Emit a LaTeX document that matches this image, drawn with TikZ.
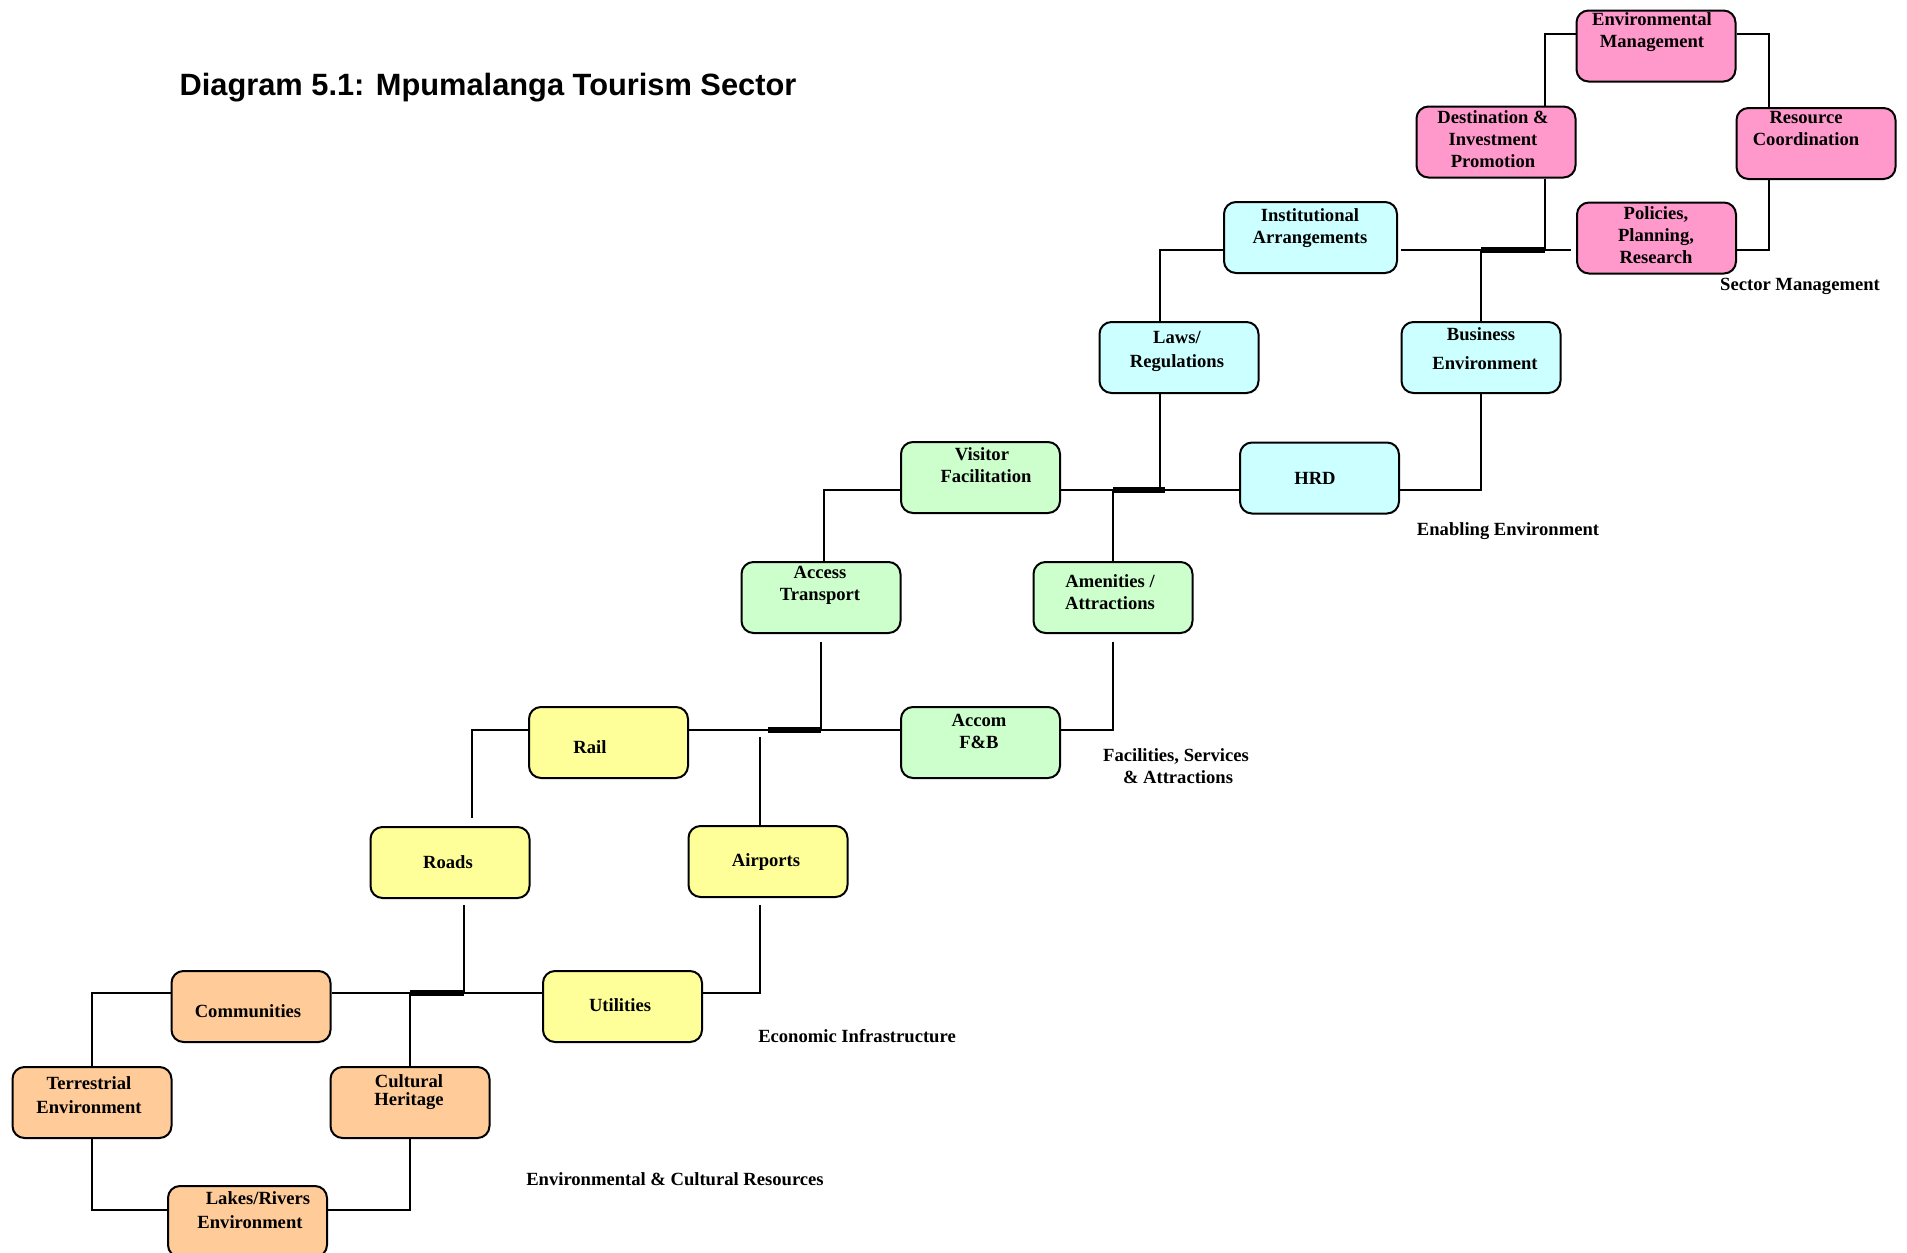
\documentclass[tikz,border=0pt]{standalone}
\usepackage{fontspec}
\setmainfont{Liberation Serif}
\newfontfamily\headfont{Liberation Sans}
\usetikzlibrary{calc}

\definecolor{smpink}{HTML}{FF99CC}
\definecolor{eecyan}{HTML}{CCFFFF}
\definecolor{fsgreen}{HTML}{CCFFCC}
\definecolor{eiyellow}{HTML}{FFFF99}
\definecolor{ecorange}{HTML}{FFCC99}

\tikzset{
  unit/.style={draw=black, line width=1pt, rounded corners=6pt,
    minimum width=79.5pt, minimum height=35.5pt, inner sep=0pt},
  pinkbox/.style={unit, fill=smpink},
  cyanbox/.style={unit, fill=eecyan},
  greenbox/.style={unit, fill=fsgreen},
  yellowbox/.style={unit, fill=eiyellow},
  orangebox/.style={unit, fill=ecorange},
  boxtext/.style={align=center, inner sep=0pt,
    font=\fontsize{9.3}{11}\selectfont\bfseries},
  grouplabel/.style={align=center, inner sep=0pt,
    font=\fontsize{9.3}{11}\selectfont\bfseries},
  link/.style={line width=0.6pt},
  bus/.style={line width=3pt},
}

\begin{document}
\begin{tikzpicture}[x=0.5pt, y=-0.5pt]
\useasboundingbox[fill=white] (0,0) rectangle (1907,1253);

% title
\node[inner sep=0pt, font=\headfont\fontsize{15.4}{18}\selectfont\bfseries] (title)
  at (488,88) {Diagram 5.1: Mpumalanga Tourism Sector};

% ---------------- Sector Management ----------------
\node[pinkbox] (envm) at (1656,46) {};
\node[boxtext] (envmT) at (1652,32) {Environmental\\Management};
\node[pinkbox] (dest) at (1496,142) {};
\node[boxtext] (destT) at (1493,139) {Destination \&\\Investment\\Promotion};
\node[pinkbox] (res) at (1816,143.5) {};
\node[boxtext] (resT) at (1806,128) {Resource\\Coordination};
\node[pinkbox] (pol) at (1656.5,238) {};
\node[boxtext] (polT) at (1656,235) {Policies,\\Planning,\\Research};
\node[grouplabel] (smlab) at (1800,286) {Sector Management};

% ---------------- Enabling Environment ----------------
\node[cyanbox, minimum width=86.5pt] (inst) at (1310.5,237.5) {};
\node[boxtext] (instT) at (1310,228.5) {Institutional\\Arrangements};
\node[cyanbox] (laws) at (1179,357.5) {};
\node[boxtext] (lawsT) at (1177,351) {Laws/\\[1pt]Regulations};
\node[cyanbox] (bus) at (1481,357.5) {};
\node[boxtext] (busT) at (1481,348.5) {Business\\[3.5pt]\hspace*{4pt}Environment};
\node[cyanbox] (hrd) at (1319.5,478) {};
\node[boxtext] (hrdT) at (1315,478) {HRD};
\node[grouplabel] (eelab) at (1508,531) {Enabling Environment};

% ---------------- Facilities, Services & Attractions ----------------
\node[greenbox] (vis) at (980.5,477.5) {};
\node[boxtext] (visT) at (982,465.5) {Visitor\\\hspace*{4pt}Facilitation};
\node[greenbox] (acc) at (821,597.5) {};
\node[boxtext] (accT) at (820,585.5) {Access\\Transport};
\node[greenbox] (amen) at (1113,597.5) {};
\node[boxtext] (amenT) at (1110,592) {Amenities /\\Attractions};
\node[greenbox] (accom) at (980.5,742.5) {};
\node[boxtext] (accomT) at (979,731.5) {Accom\\F\&B};
\node[grouplabel] (fslab) at (1176,766) {Facilities, Services\\\hspace*{2pt}\& Attractions};

% ---------------- Economic Infrastructure ----------------
\node[yellowbox] (rail) at (608.5,742.5) {};
\node[boxtext] (railT) at (590,747) {Rail};
\node[yellowbox] (roads) at (450,862.5) {};
\node[boxtext] (roadsT) at (448,862) {Roads};
\node[yellowbox] (air) at (768,861.5) {};
\node[boxtext] (airT) at (766,862) {Airports};
\node[yellowbox] (util) at (622.5,1006.5) {};
\node[boxtext] (utilT) at (620,1005) {Utilities};
\node[grouplabel] (eilab) at (857,1036) {Economic Infrastructure};

% ---------------- Environmental & Cultural Resources ----------------
\node[orangebox] (comm) at (251,1006.5) {};
\node[boxtext] (commT) at (248,1011) {Communities};
\node[orangebox] (terr) at (92,1102.5) {};
\node[boxtext] (terrT) at (89,1095) {Terrestrial\\[1pt]Environment};
\node[orangebox] (cult) at (410,1102.5) {};
\node[boxtext] (cultT) at (409,1092.5) {Cultural\\[-2pt]Heritage};
\node[orangebox] (lakes) at (247.5,1221.5) {};
\node[boxtext] (lakesT) at (250,1210) {\hspace*{8pt}Lakes/Rivers\\[1pt]Environment};
\node[grouplabel] (eclab) at (675,1179) {Environmental \& Cultural Resources};

% ---------------- junction points ----------------
\coordinate (emL) at (1545,34);
\coordinate (emR) at (1769,34);
\coordinate (smL) at (1481,250);
\coordinate (smR) at (1545,250);
\coordinate (smGap) at (1571,250);
\coordinate (rsB) at (1769,250);
\coordinate (inL) at (1160,250);
\coordinate (lwB) at (1160,490);
\coordinate (eeL) at (1113,490);
\coordinate (eeR) at (1165,490);
\coordinate (beB) at (1481,490);
\coordinate (vfL) at (824,490);
\coordinate (fsL) at (768,730);
\coordinate (fsR) at (821,730);
\coordinate (amB) at (1113,730);
\coordinate (apT) at (760,737);
\coordinate (rlL) at (472,730);
\coordinate (rlB) at (472,818);
\coordinate (rdB) at (464,905);
\coordinate (eiL) at (410,993);
\coordinate (eiR) at (464,993);
\coordinate (apB) at (760,905);
\coordinate (apC) at (760,993);
\coordinate (cmL) at (92,993);
\coordinate (lkL) at (92,1210);
\coordinate (lkR) at (410,1210);

% ---------------- Sector Management links ----------------
\draw[link] (envm.west |- emL) -- (emL) -- (emL |- dest.north);
\draw[link] (envm.east |- emR) -- (emR) -- (emR |- res.north);
\draw[link] (dest.south -| smR) -- (smR);
\draw[link] (smR) -- (smGap);
\draw[link] (pol.east |- rsB) -- (rsB) -- (rsB |- res.south);
\draw[link] ($(inst.east |- smL)+(3,0)$) -- (smL);
\draw[link] (smL) -- (bus.north);
\draw[bus] (smL) -- (smR);

% ---------------- Enabling Environment links ----------------
\draw[link] (inst.west |- inL) -- (inL) -- (inL |- laws.north);
\draw[link] (lwB |- laws.south) -- (lwB);
\draw[link] (eeR) -- (hrd.west |- eeR);
\draw[link] (hrd.east |- beB) -- (beB) -- (bus.south);
\draw[bus] (eeL) -- (eeR);

% ---------------- Facilities links ----------------
\draw[link] (vis.east |- eeL) -- (eeL);
\draw[link] (eeL) -- (eeL |- amen.north);
\draw[link] (vis.west |- vfL) -- (vfL) -- (vfL |- acc.north);
\draw[link] ($(acc.south)+(0,8)$) -- (fsR);
\draw[link] (fsR) -- (accom.west |- fsR);
\draw[link] ($(amen.south)+(0,8)$) -- (amB) -- (accom.east |- amB);
\draw[bus] (fsL) -- (fsR);

% ---------------- Economic Infrastructure links ----------------
\draw[link] (rail.east |- fsL) -- (fsL);
\draw[link] (apT) -- (apT |- air.north);
\draw[link] (rail.west |- rlL) -- (rlL) -- (rlB);
\draw[link] (rdB) -- (eiR);
\draw[link] (eiR) -- (util.west |- eiR);
\draw[link] (apB) -- (apC) -- (util.east |- apC);
\draw[bus] (eiL) -- (eiR);

% ---------------- Environmental & Cultural links ----------------
\draw[link] (comm.east |- eiL) -- (eiL);
\draw[link] (eiL) -- (eiL |- cult.north);
\draw[link] (comm.west |- cmL) -- (cmL) -- (cmL |- terr.north);
\draw[link] (terr.south) -- (lkL) -- (lakes.west |- lkL);
\draw[link] (cult.south) -- (lkR) -- (lakes.east |- lkR);

\end{tikzpicture}
\end{document}
